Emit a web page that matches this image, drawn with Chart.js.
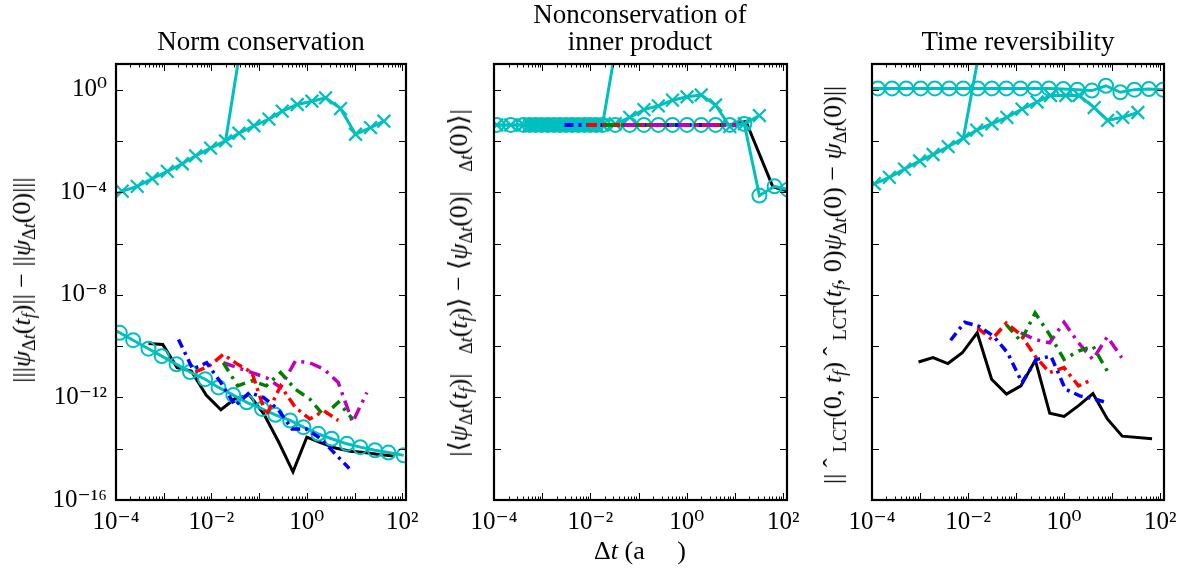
<!DOCTYPE html>
<html><head><meta charset="utf-8">
<script src="https://cdn.jsdelivr.net/npm/chart.js@4.4.0/dist/chart.umd.min.js"></script>
<style>
body{margin:0;background:#fff;width:1183px;height:569px;overflow:hidden;position:relative;font-family:"Liberation Serif","DejaVu Serif",serif;color:#000;}
canvas{position:absolute;top:0;}
.t{position:absolute;text-align:center;font-size:27px;line-height:27px;white-space:nowrap;transform:translateX(-50%);}
.yl{position:absolute;font-size:26px;line-height:28px;white-space:nowrap;transform:translate(-50%,-50%) rotate(-90deg);}
.yl sub,.xl sub{font-size:70%;vertical-align:-0.3em;line-height:0;}
.xl{position:absolute;font-size:26px;white-space:nowrap;transform:translate(-50%,-50%);}
</style></head>
<body>
<canvas id="c1" width="420" height="569" style="left:0px;width:420px;height:569px"></canvas>
<canvas id="c2" width="380" height="569" style="left:420px;width:380px;height:569px"></canvas>
<canvas id="c3" width="383" height="569" style="left:800px;width:383px;height:569px"></canvas>

<div class="t" style="left:261px;top:28px">Norm conservation</div>
<div class="t" style="left:640px;top:1px">Nonconservation of<br>inner product</div>
<div class="t" style="left:1018px;top:28px">Time reversibility</div>

<div class="yl" style="left:22px;top:280px">|||<i>ψ</i><sub>Δ<i>t</i></sub>(<i>t<sub>f</sub></i>)|| − ||<i>ψ</i><sub>Δ<i>t</i></sub>(0)|||</div>
<div class="yl" style="left:459px;top:283px">|⟨<i>ψ</i><sub>Δ<i>t</i></sub>(<i>t<sub>f</sub></i>)|&nbsp;&nbsp;&nbsp;<sub>Δ<i>t</i></sub>(<i>t<sub>f</sub></i>)⟩ − ⟨<i>ψ</i><sub>Δ<i>t</i></sub>(0)|&nbsp;&nbsp;&nbsp;<sub>Δ<i>t</i></sub>(0)⟩|</div>
<div class="yl" style="left:833px;top:285px">||&nbsp;ˆ&nbsp;<sub>LCT</sub>(0, <i>t<sub>f</sub></i>)&nbsp;ˆ&nbsp;<sub>LCT</sub>(<i>t<sub>f</sub></i>, 0)<i>ψ</i><sub>Δ<i>t</i></sub>(0) − <i>ψ</i><sub>Δ<i>t</i></sub>(0)||</div>
<div class="xl" style="left:640px;top:551px">Δ<i>t</i> (a&nbsp;&nbsp;&nbsp;&nbsp;&nbsp;)</div>

<script>
// ---------- tick labels ----------
const xMajorTicks = [1e-4, 1e-3, 1e-2, 1e-1, 1e0, 1e1, 1e2];
const xLabelValues = [1e-4, 1e-2, 1e0, 1e2];
const xLabelTexts = ['10⁻⁴', '10⁻²', '10⁰', '10²'];
const yMajorTicks = [1e0, 1e-2, 1e-4, 1e-6, 1e-8, 1e-10, 1e-12, 1e-14, 1e-16];
const yLabelValues = [1e0, 1e-4, 1e-8, 1e-12, 1e-16];
const yLabelTexts = ['10⁰', '10⁻⁴', '10⁻⁸', '10⁻¹²', '10⁻¹⁶'];

// ---------- panel 1 : Norm conservation ----------
const p1CrossX = [6.7e-5, 1.35e-4, 2.79e-4, 5.75e-4, 1.19e-3, 2.45e-3, 4.66e-3, 9.6e-3, 1.98e-2, 3.78e-2, 7.78e-2, 0.161, 0.305, 0.63, 1.28, 2.47, 5.1, 10.5, 21.7, 41.3];
const p1CrossY = [6.3e-5, 1.1e-4, 1.7e-4, 3.4e-4, 6.5e-4, 1.29e-3, 2.63e-3, 5.25e-3, 1.0e-2, 2.0e-2, 3.9e-2, 7.1e-2, 0.145, 0.263, 0.355, 0.479, 0.182, 0.0182, 0.0331, 0.0589];
const p1SteepX = [1.98e-2, 3.96e-2];
const p1SteepY = [1.0e-2, 32];
const p1CircX = [6e-5, 1.2e-4, 2.29e-4, 4.79e-4, 9.1e-4, 1.86e-3, 3.55e-3, 7.4e-3, 1.41e-2, 2.88e-2, 5.5e-2, 0.115, 0.219, 0.447, 0.851, 1.74, 3.31, 6.92, 13.2, 26.9, 51.3, 107];
const p1CircY = [6.8e-10, 3.31e-10, 1.70e-10, 7.94e-11, 4.07e-11, 1.95e-11, 9.8e-12, 5.13e-12, 2.45e-12, 1.23e-12, 6.46e-13, 3.55e-13, 2.09e-13, 1.26e-13, 6.92e-14, 3.8e-14, 2.45e-14, 1.55e-14, 1.15e-14, 8.7e-15, 7.08e-15, 5.5e-15];
const p1BlackX = [4.79e-4, 9.55e-4, 1.91e-3, 3.8e-3, 7.76e-3, 1.58e-2, 3.16e-2, 6.3e-2, 0.126, 0.257, 0.513, 1.0, 2.0, 3.98, 8.13, 16.2, 32.4, 66];
const p1BlackY = [1.26e-10, 1.15e-10, 1.45e-11, 1.07e-11, 1.23e-12, 3.31e-13, 9.1e-13, 1.23e-12, 2.24e-13, 1.82e-14, 1.26e-15, 2.82e-14, 1.7e-14, 1.07e-14, 7.94e-15, 7.08e-15, 5.89e-15, 5.25e-15];
const p1BlueX = [2.04e-3, 4.07e-3, 7.94e-3, 1.58e-2, 3.16e-2, 6.3e-2, 0.123, 0.245, 0.49, 0.977, 1.95, 3.89, 7.76];
const p1BlueY = [1.82e-10, 1.26e-11, 2.24e-11, 3.8e-12, 4.79e-13, 1.55e-12, 1.0e-12, 3.55e-13, 5.89e-14, 5.89e-14, 2.45e-14, 6.46e-15, 1.7e-15];
const p1RedX = [4.57e-3, 9.1e-3, 1.78e-2, 3.55e-2, 7.08e-2, 0.141, 0.282, 0.575, 1.15, 2.29, 4.57];
const p1RedY = [9.8e-12, 1.7e-11, 4.79e-11, 1.95e-11, 9.3e-12, 1.95e-13, 2.82e-12, 4.07e-13, 1.45e-13, 3.0e-13, 1.26e-13];
const p1GreenX = [1.78e-2, 3.55e-2, 7.08e-2, 0.141, 0.282, 0.575, 1.15, 2.29, 4.57, 9.1];
const p1GreenY = [2.24e-11, 2.82e-12, 4.47e-12, 2.82e-12, 9.3e-12, 2.09e-12, 8.7e-13, 1.95e-13, 6.46e-13, 1.45e-13];
const p1MagX = [1.78e-2, 3.55e-2, 7.08e-2, 0.141, 0.282, 0.575, 1.15, 2.29, 4.57, 9.1, 18.2];
const p1MagY = [2.24e-11, 1.45e-11, 9.3e-12, 5.89e-12, 2.45e-12, 2.63e-11, 2.24e-11, 1.26e-11, 3.8e-12, 1.07e-13, 1.55e-12];

// ---------- panel 2 : inner product ----------
const p2CircX = [1.14e-4, 2.23e-4, 4.12e-4, 5.5e-4, 7.35e-4, 9.8e-4, 1.31e-3, 1.75e-3, 2.34e-3, 3.13e-3, 4.18e-3, 5.58e-3, 7.46e-3, 9.95e-3, 1.33e-2, 1.78e-2, 3.28e-2, 6.55e-2, 0.129, 0.257, 0.505, 1.01, 1.99, 3.96, 7.8, 15.6, 32.1, 66.2, 126];
const p2CircY = [0.042, 0.042, 0.042, 0.042, 0.042, 0.042, 0.042, 0.042, 0.042, 0.042, 0.042, 0.042, 0.042, 0.042, 0.042, 0.042, 0.042, 0.042, 0.042, 0.042, 0.042, 0.042, 0.042, 0.042, 0.042, 0.046, 7.4e-5, 1.7e-4, 1.26e-4];
const p2CrossX = [1.14e-4, 2.23e-4, 4.12e-4, 5.5e-4, 7.35e-4, 9.8e-4, 1.31e-3, 1.75e-3, 2.34e-3, 3.13e-3, 4.18e-3, 5.58e-3, 7.46e-3, 9.95e-3, 1.33e-2, 1.78e-2, 3.28e-2, 6.55e-2, 0.129, 0.257, 0.505, 1.01, 1.99, 3.96, 7.8, 15.6, 32.1];
const p2CrossY = [0.042, 0.042, 0.042, 0.042, 0.042, 0.042, 0.042, 0.042, 0.042, 0.042, 0.042, 0.042, 0.042, 0.042, 0.042, 0.042, 0.0468, 0.0832, 0.166, 0.234, 0.389, 0.525, 0.617, 0.251, 0.0363, 0.0468, 0.0977];
const p2SteepX = [1.78e-2, 3.56e-2];
const p2SteepY = [0.042, 83];
const p2BlackX = [7.8, 16.9, 61, 126];
const p2BlackY = [0.042, 0.0575, 1.62e-4, 1.1e-4];
const p2BlueX = [0.0029, 0.0058, 0.0117, 0.0234, 0.0468, 0.094, 0.187, 0.375, 0.75, 1.5, 3.0, 6.0];
const p2BlueY = [0.042, 0.042, 0.042, 0.042, 0.042, 0.042, 0.042, 0.042, 0.042, 0.042, 0.042, 0.042];
const p2RedX = [0.0085, 0.017, 0.034, 0.068, 0.136, 0.272, 0.544, 1.09, 2.18, 4.35, 6.0];
const p2RedY = [0.042, 0.042, 0.042, 0.042, 0.042, 0.042, 0.042, 0.042, 0.042, 0.042, 0.042];
const p2GreenX = [0.02, 0.04, 0.08, 0.16, 0.32, 0.64, 1.28, 2.56, 5.12, 8.0];
const p2GreenY = [0.042, 0.042, 0.042, 0.042, 0.042, 0.042, 0.042, 0.042, 0.042, 0.042];
const p2MagX = [0.05, 0.1, 0.2, 0.4, 0.8, 1.6, 3.2, 6.4, 10.5];
const p2MagY = [0.042, 0.042, 0.042, 0.042, 0.042, 0.042, 0.042, 0.042, 0.042];

// ---------- panel 3 : Time reversibility ----------
const p3CircX = [6.6e-5, 1.32e-4, 2.62e-4, 5.16e-4, 1.03e-3, 2.03e-3, 4.05e-3, 7.96e-3, 1.59e-2, 3.13e-2, 6.24e-2, 0.123, 0.245, 0.481, 0.962, 1.89, 3.78, 7.43, 14.8, 29.1, 58.2, 114];
const p3CircY = [1.12, 1.12, 1.12, 1.12, 1.12, 1.12, 1.12, 1.12, 1.12, 1.12, 1.12, 1.12, 1.12, 1.12, 1.06, 1.0, 0.92, 1.42, 0.79, 1.0, 1.06, 1.0];
const p3CrossX = [6e-5, 1.12e-4, 2.3e-4, 4.76e-4, 9.8e-4, 1.87e-3, 3.85e-3, 7.96e-3, 1.51e-2, 3.13e-2, 6.44e-2, 0.133, 0.274, 0.521, 1.08, 2.05, 4.23, 8.04, 16.6, 34.2];
const p3CrossY = [1.15e-4, 2.14e-4, 3.8e-4, 7.94e-4, 1.66e-3, 2.95e-3, 6.03e-3, 1.26e-2, 2.63e-2, 4.68e-2, 8.32e-2, 0.174, 0.331, 0.589, 0.589, 0.589, 0.2, 0.063, 0.0832, 0.129];
const p3SteepX = [7.96e-3, 1.59e-2];
const p3SteepY = [1.26e-2, 14.5];
const p3BlackX = [9.3e-4, 1.86e-3, 3.8e-3, 7.59e-3, 1.55e-2, 3.09e-2, 6.3e-2, 0.126, 0.251, 0.501, 1.0, 2.0, 3.98, 7.94, 16.2, 67.6];
const p3BlackY = [2.4e-11, 3.55e-11, 2.09e-11, 5.5e-11, 3.31e-10, 5.13e-12, 1.35e-12, 2.82e-12, 2.82e-11, 2.4e-13, 1.82e-13, 4.79e-13, 1.41e-12, 1.45e-13, 3.09e-14, 2.45e-14];
const p3BlueX = [4.33e-3, 8.5e-3, 1.7e-2, 3.39e-2, 6.65e-2, 0.133, 0.265, 0.531, 1.06, 2.12, 4.23, 8.32];
const p3BlueY = [1.7e-10, 8.5e-10, 5.89e-10, 2.45e-10, 5.5e-11, 3.8e-12, 3.02e-11, 4.07e-11, 2.09e-12, 1.15e-12, 8.7e-13, 6.03e-13];
const p3RedX = [1.57e-2, 3.13e-2, 6.25e-2, 0.125, 0.249, 0.498, 0.995, 1.99, 3.97];
const p3RedY = [5.13e-10, 1.82e-10, 7.94e-10, 2.82e-10, 4.07e-11, 9.3e-12, 1.45e-11, 2.82e-12, 5.13e-12];
const p3GreenX = [6.25e-2, 0.125, 0.249, 0.498, 0.995, 1.99, 3.97, 7.93];
const p3GreenY = [6.92e-10, 1.55e-10, 1.95e-9, 2.82e-10, 3.02e-11, 6.46e-11, 1.0e-10, 1.07e-11];
const p3MagX = [0.125, 0.249, 0.498, 0.995, 1.99, 3.97, 7.93, 15.8];
const p3MagY = [3.31e-10, 1.82e-10, 1.35e-10, 8.5e-10, 1.35e-10, 3.02e-11, 2.34e-10, 3.55e-11];

// ---------- styles ----------
const CYAN = '#00BFBF', BLUE = '#0000FF', RED = '#FF0000', GREEN = '#008000', MAG = '#BF00BF';
const FONT = '"Liberation Serif","DejaVu Serif",serif';

function pts(xs, ys) { return xs.map((x, i) => ({ x: x, y: ys[i] })); }
function line(xs, ys, color, width, dash, order, extra) {
  return Object.assign({
    data: pts(xs, ys), borderColor: color, borderWidth: width, borderDash: dash || [],
    pointRadius: 0, fill: false, tension: 0, clip: 0, order: order
  }, extra || {});
}
const circ = { pointStyle: 'circle', pointRadius: 7, pointBorderWidth: 2, pointBorderColor: CYAN, pointBackgroundColor: 'rgba(0,0,0,0)' };
const cross = { pointStyle: 'crossRot', pointRadius: 9, pointBorderWidth: 2.3, pointBorderColor: CYAN, pointBackgroundColor: CYAN };
const DASH_B = [9, 5, 3, 5];
const DASH_R = [10, 5, 3, 5];
const DASH_G = [10, 6, 3, 6];
const DASH_M = [12, 6, 3, 6];

function sameExp(a, b) { return Math.abs(Math.log10(a) - Math.log10(b)) < 1e-6; }

const frameTicks = {
  id: 'frameTicks',
  afterDatasetsDraw(chart) {
    const { ctx, chartArea: a, scales: { x, y } } = chart;
    ctx.save();
    ctx.strokeStyle = '#000';
    ctx.lineWidth = 1;
    ctx.beginPath();
    xMajorTicks.forEach(dec => {
      for (let m = 1; m <= 9; m++) {
        const v = m * dec;
        if (v < x.min * 0.999 || v > x.max * 1.001) continue;
        const px = Math.round(x.getPixelForValue(v)) + 0.5;
        const len = m === 1 ? 7 : 3.5;
        ctx.moveTo(px, a.bottom); ctx.lineTo(px, a.bottom - len);
        ctx.moveTo(px, a.top); ctx.lineTo(px, a.top + len);
      }
    });
    yMajorTicks.forEach(v => {
      const py = Math.round(y.getPixelForValue(v)) + 0.5;
      ctx.moveTo(a.left, py); ctx.lineTo(a.left + 7, py);
      ctx.moveTo(a.right, py); ctx.lineTo(a.right - 7, py);
    });
    ctx.stroke();
    ctx.lineWidth = 2.2;
    ctx.strokeRect(a.left, a.top, a.right - a.left, a.bottom - a.top);
    ctx.restore();
  }
};

function makeChart(id, canvasLeft, canvasWidth, areaLeft, areaRight, showY, datasets) {
  return new Chart(document.getElementById(id), {
    type: 'line',
    data: { datasets: datasets },
    plugins: [frameTicks],
    options: {
      responsive: false, animation: false, devicePixelRatio: 1,
      layout: { padding: { left: 0, right: canvasWidth - (areaRight - canvasLeft), top: 64, bottom: 0 } },
      plugins: { legend: { display: false }, tooltip: { enabled: false }, title: { display: false } },
      scales: {
        x: {
          type: 'logarithmic', min: 1e-4, max: 1.2e2,
          afterBuildTicks: s => { s.ticks = xLabelValues.map(v => ({ value: v })); },
          afterFit: s => { s.height = 69; s.paddingLeft = 0; s.paddingRight = 0; },
          grid: { display: false, drawTicks: false }, border: { display: false },
          ticks: {
            autoSkip: false, maxRotation: 0, minRotation: 0, padding: 7, color: '#000',
            font: { family: FONT, size: 25 },
            callback: v => { const i = xLabelValues.findIndex(l => sameExp(l, v)); return i >= 0 ? xLabelTexts[i] : ''; }
          }
        },
        y: {
          type: 'logarithmic', min: 1e-16, max: 1e1,
          afterBuildTicks: s => { s.ticks = yLabelValues.map(v => ({ value: v })); },
          afterFit: s => { s.width = areaLeft - canvasLeft; s.paddingTop = 0; s.paddingBottom = 0; },
          grid: { display: false, drawTicks: false }, border: { display: false },
          ticks: {
            display: showY, autoSkip: false, padding: 9, color: '#000',
            font: { family: FONT, size: 25 },
            callback: v => { const i = yLabelValues.findIndex(l => sameExp(l, v)); return i >= 0 ? yLabelTexts[i] : ''; }
          }
        }
      }
    }
  });
}

makeChart('c1', 0, 420, 116, 406, true, [
  line(p1BlueX, p1BlueY, BLUE, 3.5, DASH_B, 1),
  line(p1RedX, p1RedY, RED, 3.5, DASH_R, 2),
  line(p1GreenX, p1GreenY, GREEN, 3.5, DASH_G, 3),
  line(p1MagX, p1MagY, MAG, 3.5, DASH_M, 4),
  line(p1CircX, p1CircY, CYAN, 3, [], 5, circ),
  line(p1SteepX, p1SteepY, CYAN, 3, [], 6),
  line(p1CrossX, p1CrossY, CYAN, 3, [], 7, cross),
  line(p1BlackX, p1BlackY, '#000', 3, [], 8)
]);

makeChart('c2', 420, 380, 494, 787, false, [
  line(p2MagX, p2MagY, MAG, 4, DASH_M, 1),
  line(p2GreenX, p2GreenY, GREEN, 4, DASH_G, 2),
  line(p2RedX, p2RedY, RED, 4, DASH_R, 3),
  line(p2BlueX, p2BlueY, BLUE, 4, DASH_B, 4),
  line(p2CircX, p2CircY, CYAN, 3, [], 5, circ),
  line(p2SteepX, p2SteepY, CYAN, 3, [], 6),
  line(p2CrossX, p2CrossY, CYAN, 3, [], 7, cross),
  line(p2BlackX, p2BlackY, '#000', 3, [], 8)
]);

makeChart('c3', 800, 383, 872, 1164, false, [
  line(p3BlueX, p3BlueY, BLUE, 3.5, DASH_B, 1),
  line(p3RedX, p3RedY, RED, 3.5, DASH_R, 2),
  line(p3GreenX, p3GreenY, GREEN, 3.5, DASH_G, 3),
  line(p3MagX, p3MagY, MAG, 3.5, DASH_M, 4),
  line(p3CircX, p3CircY, CYAN, 3, [], 5, circ),
  line(p3SteepX, p3SteepY, CYAN, 3, [], 6),
  line(p3CrossX, p3CrossY, CYAN, 3, [], 7, cross),
  line(p3BlackX, p3BlackY, '#000', 3, [], 8)
]);
</script>
</body></html>
